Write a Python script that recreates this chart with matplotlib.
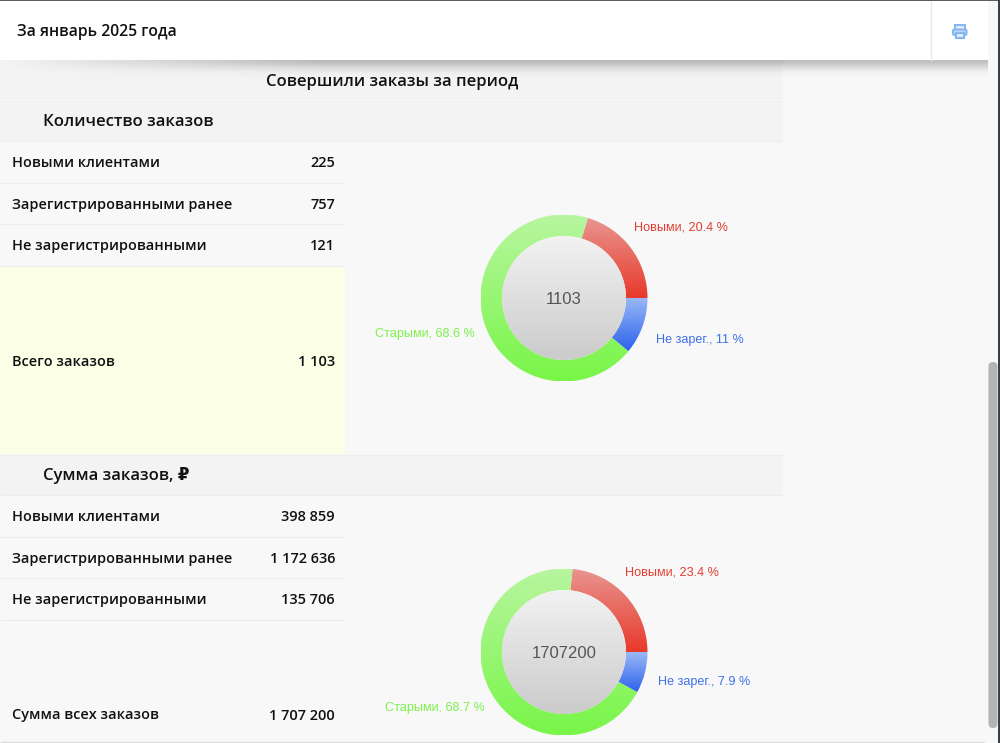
import numpy as np
import matplotlib
matplotlib.use("Agg")
import matplotlib.pyplot as plt
from matplotlib.patches import Rectangle, FancyBboxPatch, Circle
from matplotlib.colors import LinearSegmentedColormap

# =========================
# DATA
# =========================
period_title = "За январь 2025 года"
section_title = "Совершили заказы за период"

row_names = ["Новыми клиентами", "Зарегистрированными ранее", "Не зарегистрированными"]

count_title = "Количество заказов"
count_values = [225, 757, 121]
count_text = ["225", "757", "121"]
count_total_name = "Всего заказов"
count_total_text = "1 103"
count_center = "1103"
count_labels = ["Новыми, 20.4 %", "Старыми, 68.6 %", "Не зарег., 11 %"]

sum_title = "Сумма заказов, ₽"
sum_values = [398859, 1172636, 135706]
sum_text = ["398 859", "1 172 636", "135 706"]
sum_total_name = "Сумма всех заказов"
sum_total_text = "1 707 200"
sum_center = "1707200"
sum_labels = ["Новыми, 23.4 %", "Старыми, 68.7 %", "Не зарег., 7.9 %"]

# =========================
# CONFIG
# =========================
W, H = 1000, 743
PAGE = "#f8f8f8"
HEAD = "#f3f3f3"
LINE = "#eeeeee"
UI_FONT = ["Open Sans", "DejaVu Sans"]
CHART_FONT = ["Liberation Sans", "DejaVu Sans"]

SLICE_COLORS = [("#e99690", "#e8392b"), ("#b8f6a0", "#78f548"), ("#9ab9f6", "#2e62ec")]
LABEL_COLORS = ["#e23d30", "#7df24c", "#3f70e8"]

fig = plt.figure(figsize=(W / 100, H / 100), dpi=100, facecolor=PAGE)
ax = fig.add_axes([0, 0, 1, 1])
ax.set_xlim(0, W)
ax.set_ylim(H, 0)
ax.axis("off")


def rect(x0, y0, x1, y1, color, z=1):
    ax.add_patch(Rectangle((x0, y0), x1 - x0, y1 - y0, fc=color, ec="none", zorder=z))


def hline(y, x0, x1, color=LINE):
    ax.plot([x0, x1], [y, y], color=color, lw=1, zorder=2, solid_capstyle="butt")


def ui_text(x, y, s, size=10.45, ha="left", weight=600):
    ax.text(x, y + 1.5, s, fontsize=size, ha=ha, va="center", family=UI_FONT,
            fontweight=weight, color="#111111", zorder=6)


# =========================
# TABLE
# =========================
def draw_block(top, title, values_text, total_name, total_text, total_y, total_bottom, total_color):
    rect(0, top, 783, top + 40, HEAD)
    hline(top + 40.5, 0, 783)
    ui_text(43, top + 19.5, title, size=12.0)

    y = top + 40.5
    for name, text in zip(row_names, values_text):
        ui_text(12, y + 20.5, name)
        ui_text(335, y + 20.5, text, ha="right")
        y += 41.7
        hline(y, 0, 345)

    if total_color:
        rect(0, y, 345, total_bottom, total_color)
    ui_text(12, total_y, total_name)
    ui_text(335, total_y, total_text, ha="right")


rect(0, 60, 783, 100, HEAD)
hline(100.5, 0, 783)
ui_text(392, 80, section_title, size=12.0, ha="center")

draw_block(100.5, count_title, count_text, count_total_name, count_total_text, 360, 454, "#fbffe6")
hline(454.5, 0, 783)
draw_block(454.5, sum_title, sum_text, sum_total_name, sum_total_text, 714, 741, None)
hline(741.5, 0, 984, "#dcdcdc")

# =========================
# HEADER BAR
# =========================
# soft drop shadow under the bar, faded towards the left end
fade_y = np.exp(-np.linspace(0, 2.0, 40) ** 2)[:, None]
fade_x = np.clip(np.linspace(0, 50, 500) / 16, 0, 1)[None, :]
shadow = np.zeros((40, 500, 4))
shadow[:, :, 3] = 0.24 * fade_y * fade_x
ax.imshow(shadow, extent=(0, 988, 78, 59), aspect="auto", interpolation="bilinear", zorder=3)
ax.set_xlim(0, W)
ax.set_ylim(H, 0)

rect(0, 0, 988, 60, "#ffffff", z=4)
ax.plot([930.5, 930.5], [2, 60], color="#e8e8e8", lw=1, zorder=5)
ui_text(17, 30, period_title, size=11.3)

# printer icon
ICON = "#86b7f3"
ax.add_patch(Rectangle((955, 24.5), 9.5, 6, fc="#e4effd", ec=ICON, lw=1.5, zorder=5))
ax.add_patch(FancyBboxPatch((953, 29.5), 13.5, 5.5, boxstyle="round,pad=0,rounding_size=1.5",
                            fc="#bcd7f8", ec=ICON, lw=1.5, zorder=5))
ax.add_patch(Rectangle((955.5, 33), 8.5, 4.5, fc="#e4effd", ec=ICON, lw=1.5, zorder=6))

# =========================
# WINDOW EDGES + SCROLLBAR
# =========================
rect(0, 0, W, 1.2, "#5a5d65", z=7)
rect(998, 0, W, H, "#3c3f48", z=7)
ax.add_patch(FancyBboxPatch((988.5, 362), 9, 366, boxstyle="round,pad=0,rounding_size=4.5",
                            fc="#b4b4b4", ec="none", zorder=7))


# =========================
# DONUTS
# =========================
def draw_donut(cx, cy, values, labels, label_pos, center_text, R=83.5, r=62):
    donut = fig.add_axes([(cx - R) / W, 1 - (cy + R) / H, 2 * R / W, 2 * R / H])
    wedges, _ = donut.pie(values, startangle=0, counterclock=True, radius=1,
                          wedgeprops=dict(width=1 - r / R, fc="none", ec="none"))

    grad = np.linspace(0, 1, 256)[:, None]
    for wedge, (c_top, c_bottom) in zip(wedges, SLICE_COLORS):
        box = wedge.get_path().get_extents()
        cmap = LinearSegmentedColormap.from_list("slice", [c_top, c_bottom])
        im = donut.imshow(grad, cmap=cmap, extent=(-1, 1, box.y0, box.y1), aspect="auto",
                          origin="upper", zorder=2)
        im.set_clip_path(wedge)

    hub = Circle((0, 0), r / R, transform=donut.transData)
    cmap = LinearSegmentedColormap.from_list("hub", ["#f2f2f2", "#cbcbcb"])
    im = donut.imshow(grad, cmap=cmap, extent=(-1, 1, -r / R, r / R), aspect="auto",
                      origin="upper", zorder=2)
    im.set_clip_path(hub)

    donut.set_xlim(-1, 1)
    donut.set_ylim(-1, 1)
    donut.set_aspect("equal")
    donut.axis("off")

    # center value sits on top of the hub image
    ax_y = -2 / R
    donut.text(0, ax_y, center_text, fontsize=12, ha="center", va="center",
               family=CHART_FONT, color="#555555", zorder=6)
    for text, (x, y), color in zip(labels, label_pos, LABEL_COLORS):
        ax.text(x, y, text, fontsize=9.1, ha="center", va="center",
                family=CHART_FONT, color=color, zorder=6)


draw_donut(564, 298, count_values, count_labels,
           [(681, 227), (424.5, 334), (700, 339.5)], count_center)
draw_donut(564, 652, sum_values, sum_labels,
           [(672, 572.5), (435, 708.5), (704.5, 682.5)], sum_center)

fig.savefig("out.png", dpi=100, facecolor=PAGE)
